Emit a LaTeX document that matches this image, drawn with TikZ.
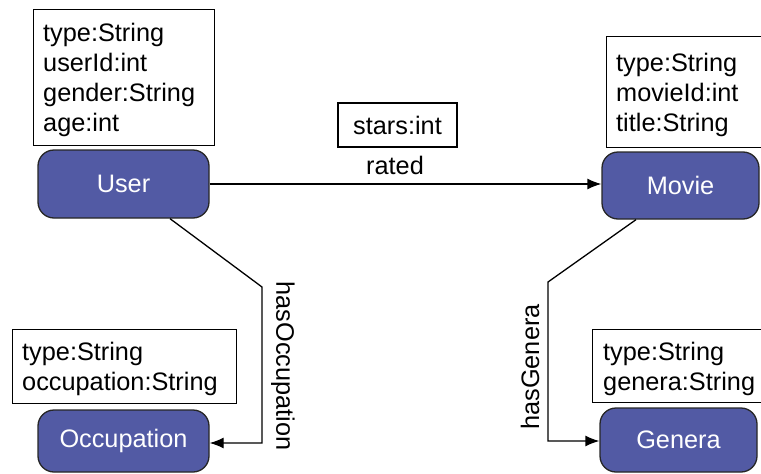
\documentclass[tikz,border=0pt]{standalone}
\usepackage{fontspec}
\setmainfont{Liberation Sans}
\usetikzlibrary{arrows.meta}
\definecolor{nodeblue}{RGB}{82,90,164}
\begin{document}
\begin{tikzpicture}[x=1pt,y=-1pt,
  every node/.style={font=\fontsize{25.3}{30}\selectfont},
  ent/.style={draw=black!85, line width=1.3pt, fill=nodeblue, rounded corners=16pt,
     text=white, minimum width=#1, minimum height=67pt, inner sep=0pt},
  attr/.style={draw=black, line width=1.3pt, fill=white, align=left, inner sep=0pt, anchor=north west},
  edge/.style={draw=black, line width=1.3pt},
  arr/.style={edge, -{Latex[length=14pt,width=11pt]}}]
\useasboundingbox (0,0) rectangle (761,474);
\clip (0,0) rectangle (761,474);
% attribute boxes
\node[attr, minimum width=181pt, minimum height=136pt] (ua) at (33,9) {};
\node[anchor=west, align=left, inner sep=0pt] (uat) at (43,80) {type:String\\userId:int\\gender:String\\age:int};
\node[attr, minimum width=158pt, minimum height=111pt] (ma) at (606,36) {};
\node[anchor=west, align=left, inner sep=0pt] (mat) at (616,94.5) {type:String\\movieId:int\\title:String};
\node[attr, minimum width=224pt, minimum height=74pt] (oa) at (12,329) {};
\node[anchor=west, align=left, inner sep=0pt] (oat) at (22,369) {type:String\\occupation:String};
\node[attr, minimum width=175pt, minimum height=73pt] (ga) at (592,329) {};
\node[anchor=west, align=left, inner sep=0pt] (gat) at (603,369) {type:String\\genera:String};
% entity nodes
\node[ent=171pt, minimum height=68pt] (user) at (123.5,184) {User};
\node[ent=157pt] (movie) at (680.5,185.5) {Movie};
\node[ent=171pt, minimum height=62pt] (occ) at (123.5,441) {Occupation};
\node[ent=157pt, minimum height=64pt] (gen) at (678.5,440) {Genera};
% rated edge
\draw[arr] (user.east |- 0,184) -- (movie.west |- 0,184);
\node[draw=black, line width=1.3pt, minimum width=119pt, minimum height=44pt, inner sep=0pt] (stars) at (397.5,125) {stars:int};
\node[inner sep=0pt] (rated) at (395,165) {rated};
% hasOccupation
\coordinate (b1) at (262,287);
\coordinate (b2) at (262,443);
\draw[arr] ([xshift=46.5pt]user.south) -- (b1) -- (b2) -- (occ.east |- b2);
\node[rotate=-90, inner sep=0pt] (hol) at (283,366) {hasOccupation};
% hasGenera
\coordinate (c1) at (548,282);
\coordinate (c2) at (548,441);
\draw[arr] ([xshift=-44.5pt]movie.south) -- (c1) -- (c2) -- (gen.west |- c2);
\node[rotate=90, inner sep=0pt] (hgl) at (530,367) {hasGenera};
\end{tikzpicture}
\end{document}
